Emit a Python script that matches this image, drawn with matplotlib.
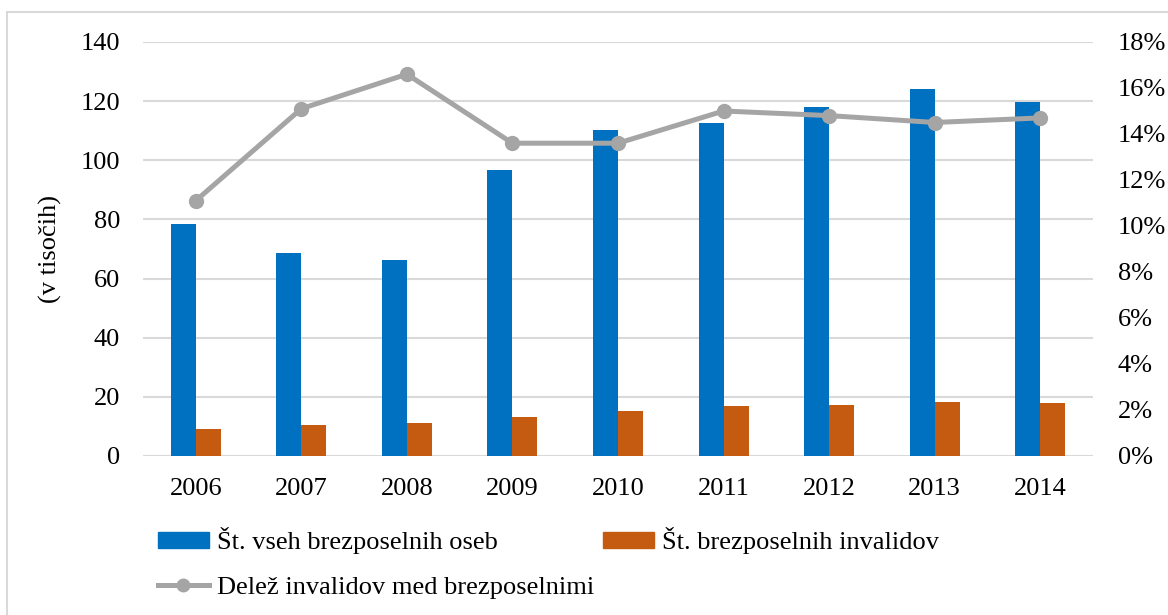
import matplotlib.pyplot as plt
import numpy as np
from matplotlib.lines import Line2D
from matplotlib.patches import Patch, Rectangle

plt.rcParams["font.family"] = ["Liberation Serif", "DejaVu Serif"]

# data
years = ["2006", "2007", "2008", "2009", "2010", "2011", "2012", "2013", "2014"]
all_unemployed = [78.5, 68.5, 66.4, 96.6, 110.1, 112.7, 117.9, 124.0, 119.7]
disabled_unemployed = [9.0, 10.4, 11.3, 13.1, 15.1, 16.9, 17.4, 18.2, 17.8]
share_disabled = [11.1, 15.1, 16.6, 13.6, 13.6, 15.0, 14.8, 14.5, 14.7]

BLUE = "#0070c0"
ORANGE = "#c55a11"
GRAY = "#a5a5a5"
GRID = "#d9d9d9"
FS = 19

W, H = 1168, 615
fig = plt.figure(figsize=(W / 100, H / 100), dpi=100)
ax = fig.add_axes([143 / W, 1 - 456 / H, 950 / W, 414 / H])
ax2 = ax.twinx()

x = np.arange(len(years))
w = 0.237
ax.bar(x - w / 2, all_unemployed, w, color=BLUE, zorder=2)
ax.bar(x + w / 2, disabled_unemployed, w, color=ORANGE, zorder=2)

ax.set_ylim(0, 140)
ax.set_yticks(range(0, 141, 20))
ax.set_xlim(-0.5, len(years) - 0.5)
ax.set_xticks(x)
ax.set_xticklabels(years)
ax.grid(axis="y", color=GRID, lw=1.5, zorder=0)
ax.set_axisbelow(True)
ax.set_ylabel("(v tisočih)", fontsize=FS)
ax.yaxis.set_label_coords(-0.085, 0.5)

ax2.plot(x, share_disabled, color=GRAY, lw=3.6, marker="o", ms=10, zorder=3)
ax2.set_ylim(0, 18)
ax2.set_yticks(range(0, 19, 2))
ax2.set_yticklabels([f"{v}%" for v in range(0, 19, 2)])

for a in (ax, ax2):
    for s in a.spines.values():
        s.set_visible(False)
    a.tick_params(length=0, labelsize=FS)
ax.tick_params(axis="y", pad=16.5)
ax.tick_params(axis="x", pad=16)
ax2.tick_params(axis="y", pad=18)
ax.set_zorder(ax2.get_zorder() - 1)
ax2.patch.set_visible(False)
ax.patch.set_visible(False)

# outer chart border
fig.patches.append(Rectangle((7 / W, -0.01), 1, 1 - 12 / H + 0.01,
                             transform=fig.transFigure, fill=False,
                             edgecolor=GRID, lw=1.5))

h1 = [Patch(color=BLUE, label="Št. vseh brezposelnih oseb"),
      Patch(color=ORANGE, label="Št. brezposelnih invalidov")]
fig.legend(handles=h1, loc="center left", bbox_to_anchor=(158 / W, 1 - 541 / H),
           ncol=2, frameon=False, fontsize=FS, handlelength=1.93, handleheight=0.53,
           handletextpad=0.3, columnspacing=4.0, borderaxespad=0, borderpad=0)
h2 = [Line2D([], [], color=GRAY, lw=3.6, marker="o", ms=9,
             label="Delež invalidov med brezposelnimi")]
fig.legend(handles=h2, loc="center left", bbox_to_anchor=(158 / W, 1 - 587 / H),
           frameon=False, fontsize=FS, handlelength=1.93, handletextpad=0.3,
           borderaxespad=0, borderpad=0)

fig.savefig("out.png", dpi=100)
